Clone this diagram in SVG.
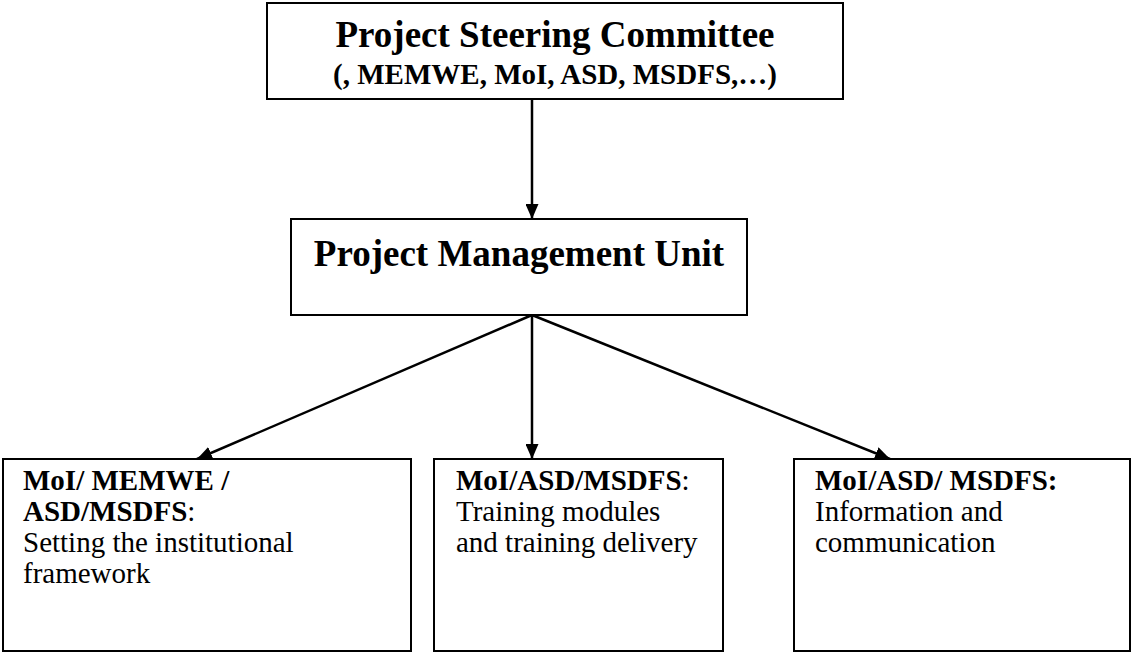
<svg xmlns="http://www.w3.org/2000/svg" width="1132" height="655" viewBox="0 0 1132 655">
<style>
.box{fill:#fff;stroke:#000;stroke-width:2}
.t{font-family:"Liberation Serif","Times New Roman",Times,serif;fill:#000}
.b{font-weight:bold}
.c{stroke:#000;stroke-width:2.5;fill:none}
</style>
<defs>
<marker id="ah" viewBox="0 0 15 13" refX="15" refY="6.5" markerWidth="15" markerHeight="13" markerUnits="userSpaceOnUse" orient="auto">
<path d="M0,0 L15,6.5 L0,13 z" fill="#000"/>
</marker>
</defs>
<rect width="1132" height="655" fill="#fff"/>
<g id="connectors">
<line class="c" x1="532" y1="99" x2="532" y2="219" marker-end="url(#ah)"/>
<line class="c" x1="532" y1="315" x2="197" y2="459" marker-end="url(#ah)"/>
<line class="c" x1="532" y1="315" x2="532" y2="459" marker-end="url(#ah)"/>
<line class="c" x1="532" y1="315" x2="890" y2="459" marker-end="url(#ah)"/>
</g>
<g id="steering">
<rect class="box" x="267" y="3" width="576" height="96"/>
<text class="t b" x="555" y="47" font-size="37" text-anchor="middle">Project Steering Committee</text>
<text class="t b" x="555" y="84" font-size="29" text-anchor="middle">(, MEMWE, MoI, ASD, MSDFS,…)</text>
</g>
<g id="pmu">
<rect class="box" x="291" y="219" width="456" height="96"/>
<text class="t b" x="519" y="266" font-size="37" text-anchor="middle">Project Management Unit</text>
</g>
<g id="box1">
<rect class="box" x="3" y="459" width="408" height="192"/>
<text class="t" font-size="29"><tspan x="23" y="490" class="b">MoI/ MEMWE /</tspan><tspan x="23" y="521"><tspan class="b">ASD/MSDFS</tspan>:</tspan><tspan x="23" y="552">Setting the institutional</tspan><tspan x="23" y="583">framework</tspan></text>
</g>
<g id="box2">
<rect class="box" x="434" y="459" width="289" height="192"/>
<text class="t" font-size="29"><tspan x="456" y="490"><tspan class="b">MoI/ASD/MSDFS</tspan>:</tspan><tspan x="456" y="521">Training modules</tspan><tspan x="456" y="552">and training delivery</tspan></text>
</g>
<g id="box3">
<rect class="box" x="794" y="459" width="336" height="192"/>
<text class="t" font-size="29"><tspan x="815" y="490" class="b">MoI/ASD/ MSDFS:</tspan><tspan x="815" y="521">Information and</tspan><tspan x="815" y="552">communication</tspan></text>
</g>
</svg>
